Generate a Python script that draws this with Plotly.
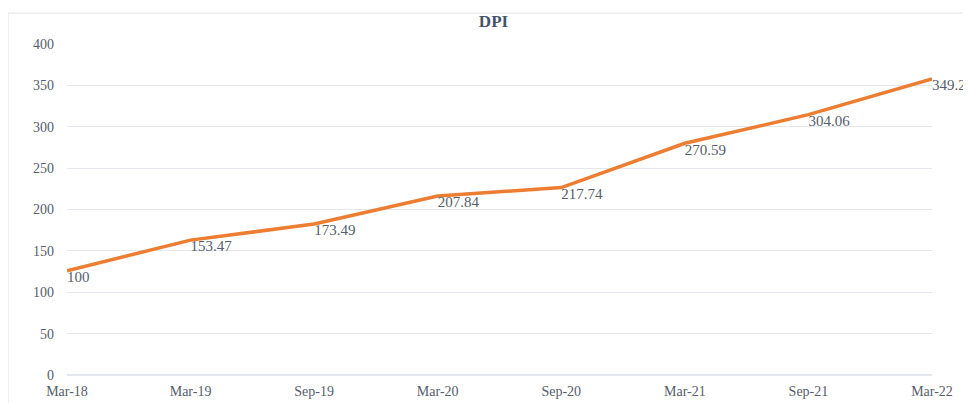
import plotly.graph_objects as go

periods = ["Mar-18", "Mar-19", "Sep-19", "Mar-20", "Sep-20", "Mar-21", "Sep-21", "Mar-22"]
line_values = [126, 163, 182.4, 216.4, 226.5, 280, 314.6, 357.9]
label_texts = ["100", "153.47", "173.49", "207.84", "217.74", "270.59", "304.06", "349.22"]
y_ticks = [0, 50, 100, 150, 200, 250, 300, 350, 400]

font_family = "Liberation Serif, Times New Roman, serif"
text_color = "#565d6b"

fig = go.Figure()
fig.add_trace(go.Scatter(
    x=periods, y=line_values, mode="lines+text",
    text=label_texts, textposition="bottom right",
    textfont=dict(family=font_family, size=15, color=text_color),
    line=dict(color="#ED7D31", width=3.5),
    cliponaxis=False, showlegend=False,
))

fig.update_layout(
    width=971, height=403,
    margin=dict(l=59, r=47, t=36, b=34),
    paper_bgcolor="white", plot_bgcolor="white",
    title=dict(text="<b>DPI</b>", x=0.5, xanchor="center", y=1 - 13 / 403, yanchor="middle",
               font=dict(family=font_family, size=17, color="#44546a")),
    xaxis=dict(type="category", range=[0, 7], showgrid=False, showline=False, zeroline=False,
               ticks="", tickfont=dict(family=font_family, size=14, color=text_color),
               ticklabelstandoff=6),
    yaxis=dict(range=[0, 400], tickvals=y_ticks, showgrid=True, gridcolor="#e4e8ee", gridwidth=1,
               zeroline=True, zerolinecolor="#e4e8ee", showline=False, ticks="",
               tickfont=dict(family=font_family, size=14, color=text_color),
               ticklabelstandoff=12),
    shapes=[dict(type="rect", xref="paper", yref="paper", x0=-0.0682, x1=1.2, y0=-0.3, y1=1.0931,
                 line=dict(color="#e2e4e8", width=1), fillcolor="rgba(0,0,0,0)", layer="below")],
)

fig.write_html("out.html")
